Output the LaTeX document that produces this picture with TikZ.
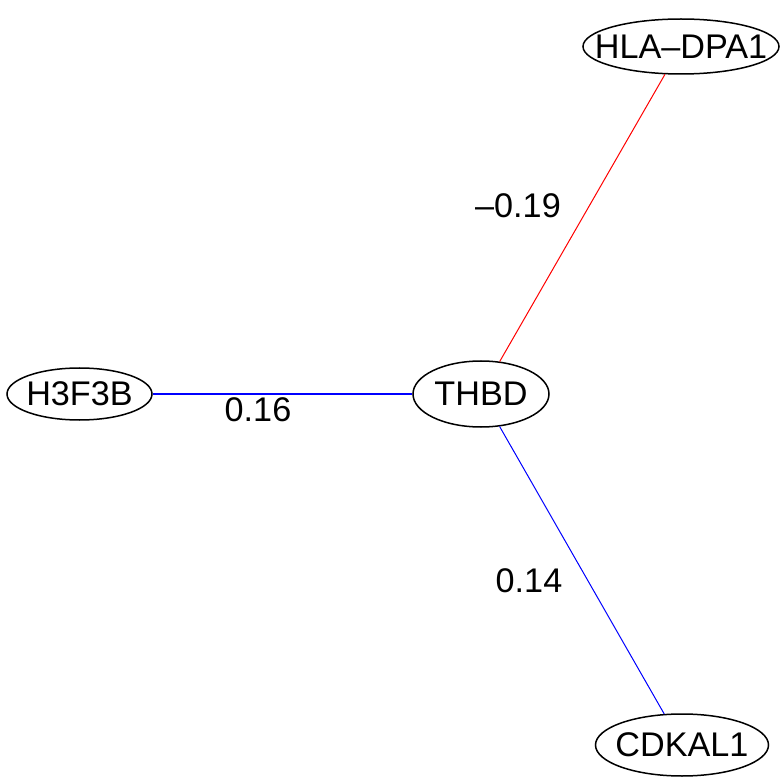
\documentclass[tikz,border=0pt]{standalone}
\usepackage{fontspec}
\setmainfont{Liberation Sans}
\usetikzlibrary{shapes.geometric}
\begin{document}
\begin{tikzpicture}[x=1pt,y=-1pt,
  gene/.style={ellipse,draw=black,line width=1.5pt,inner sep=0pt,
    label={[inner sep=0pt,font=\fontsize{34.2}{40}\selectfont]center:#1}},
  wlabel/.style={inner sep=0pt,font=\fontsize{34.2}{40}\selectfont},
  posedge/.style={draw=blue,line width=1pt},
  negedge/.style={draw=red,line width=1pt}]
\useasboundingbox (0,0) rectangle (780,778);
\node[gene={HLA–DPA1},minimum width=196pt,minimum height=55pt] (hla) at (681,46.5) {};
\node[gene={H3F3B},minimum width=145pt,minimum height=52pt] (h3f) at (79.5,394) {};
\node[gene={THBD},minimum width=136pt,minimum height=66pt] (thbd) at (481,394) {};
\node[gene={CDKAL1},minimum width=173pt,minimum height=62pt] (cdk) at (682,745) {};
\draw[negedge] (thbd) -- (hla);
\draw[posedge] (h3f) -- (thbd);
\draw[posedge] (thbd) -- (cdk);
\node[wlabel] (l1) at (518,206) {–0.19};
\node[wlabel] (l2) at (258,410) {0.16};
\node[wlabel] (l3) at (529,581) {0.14};
\end{tikzpicture}
\end{document}
